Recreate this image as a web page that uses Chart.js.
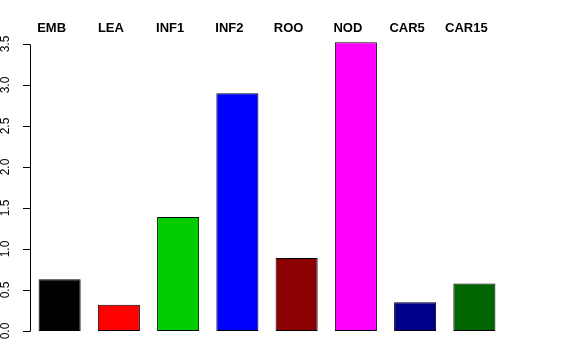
<!DOCTYPE html>
<html>
<head>
<meta charset="utf-8">
<script src="https://cdn.jsdelivr.net/npm/chart.js@4"></script>
<style>
  html, body { margin: 0; padding: 0; background: #fff; }
  #wrap { width: 576px; height: 360px; }
</style>
</head>
<body>
<div id="wrap"><canvas id="chart" width="576" height="360"></canvas></div>
<script>
const categories = ["EMB", "LEA", "INF1", "INF2", "ROO", "NOD", "CAR5", "CAR15"];
const values = [0.63, 0.32, 1.39, 2.90, 0.89, 3.52, 0.35, 0.58];
const barColors = ["#000000", "#FF0000", "#00CD00", "#0000FF", "#8B0000", "#FF00FF", "#00008B", "#006400"];
const yTicks = [0, 0.5, 1, 1.5, 2, 2.5, 3, 3.5];
const yTickLabels = ["0.0", "0.5", "1.0", "1.5", "2.0", "2.5", "3.0", "3.5"];

// R-style axis: line from first to last tick, rotated labels, plus names over the bars
const rAxis = {
  id: "rAxis",
  afterDraw(chart) {
    const ctx = chart.ctx;
    const y = chart.scales.y;
    const x = chart.scales.x;
    const axisX = chart.chartArea.left;
    ctx.save();
    ctx.strokeStyle = "#000";
    ctx.lineWidth = 1;
    ctx.beginPath();
    ctx.moveTo(axisX + 0.5, Math.round(y.getPixelForValue(yTicks[0])) + 0.5);
    ctx.lineTo(axisX + 0.5, Math.round(y.getPixelForValue(yTicks[yTicks.length - 1])) + 0.5);
    yTicks.forEach(v => {
      const py = Math.round(y.getPixelForValue(v)) + 0.5;
      ctx.moveTo(axisX + 0.5, py);
      ctx.lineTo(axisX - 7, py);
    });
    ctx.stroke();

    ctx.fillStyle = "#000";
    ctx.font = "12px 'Liberation Sans', Arial, sans-serif";
    ctx.textAlign = "center";
    ctx.textBaseline = "alphabetic";
    yTicks.forEach((v, i) => {
      ctx.save();
      ctx.translate(9, y.getPixelForValue(v));
      ctx.rotate(-Math.PI / 2);
      ctx.fillText(yTickLabels[i], 0, 0);
      ctx.restore();
    });

    ctx.font = "bold 13px 'Liberation Sans', Arial, sans-serif";
    categories.forEach((c, i) => {
      ctx.fillText(c, x.getPixelForValue(i) - 8, 32);
    });
    ctx.restore();
  }
};

new Chart(document.getElementById("chart"), {
  type: "bar",
  data: {
    labels: categories,
    datasets: [{
      data: values,
      backgroundColor: barColors,
      borderColor: "#000",
      borderWidth: 1,
      borderSkipped: false,
      barPercentage: 0.71,
      categoryPercentage: 1.0,
      clip: false
    }]
  },
  options: {
    responsive: false,
    animation: false,
    layout: {
      padding: { left: 30, right: 72, top: 44, bottom: 29 }
    },
    scales: {
      x: { display: false },
      y: { display: false, min: 0, max: 3.5 }
    },
    plugins: {
      legend: { display: false },
      tooltip: { enabled: false }
    }
  },
  plugins: [rAxis]
});
</script>
</body>
</html>
